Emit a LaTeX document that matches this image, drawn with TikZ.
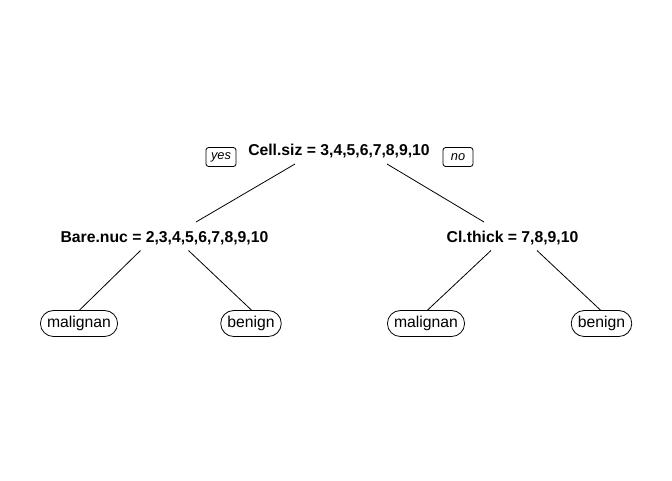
\documentclass[tikz,border=0pt]{standalone}
\usepackage{fontspec}
\setmainfont{Liberation Sans}
\usetikzlibrary{calc,shapes.misc}
\begin{document}
\begin{tikzpicture}[x=0.75pt,y=-0.75pt,
  split/.style={inner sep=0pt,font=\fontsize{11.8}{14}\selectfont\bfseries},
  leaf/.style={draw,rounded rectangle,inner xsep=3.3pt,inner ysep=0pt,minimum height=19.5pt,line width=0.6pt,font=\fontsize{11.8}{14}\selectfont},
  tag/.style={draw,rounded corners=2pt,inner sep=0pt,minimum width=22.5pt,minimum height=14.25pt,line width=0.6pt,font=\fontsize{9.6}{11}\selectfont\itshape},
  edge/.style={line width=0.6pt}]
\useasboundingbox (0,0) rectangle (672,480);
\node[split] (root) at (339,151.5) {Cell.siz = 3,4,5,6,7,8,9,10};
\node[tag] (yes) at (221,157) {yes};
\node[tag] (no) at (458,157) {no};
\node[split] (bare) at (164.5,238.5) {Bare.nuc = 2,3,4,5,6,7,8,9,10};
\node[split] (thick) at (512.5,238.5) {Cl.thick = 7,8,9,10};
\node[leaf] (l1) at (79,323.5) {malignan};
\node[leaf] (l2) at (251,323.5) {benign};
\node[leaf] (l3) at (426,323.5) {malignan};
\node[leaf] (l4) at (601.5,323.5) {benign};
\draw[edge] ($(root)+(-44,12.5)$) -- ($(bare)+(31.5,-16.5)$);
\draw[edge] ($(root)+(48,12.5)$) -- ($(thick)+(-28.5,-16.5)$);
\draw[edge] ($(bare)+(-24,12)$) -- ($(l1.north)+(0,0.5)$);
\draw[edge] ($(bare)+(24,12)$) -- ($(l2.north)+(1,0.5)$);
\draw[edge] ($(thick)+(-21.5,12)$) -- ($(l3.north)+(1,0.5)$);
\draw[edge] ($(thick)+(24.5,12)$) -- ($(l4.north)+(-0.5,0.5)$);
\end{tikzpicture}
\end{document}
